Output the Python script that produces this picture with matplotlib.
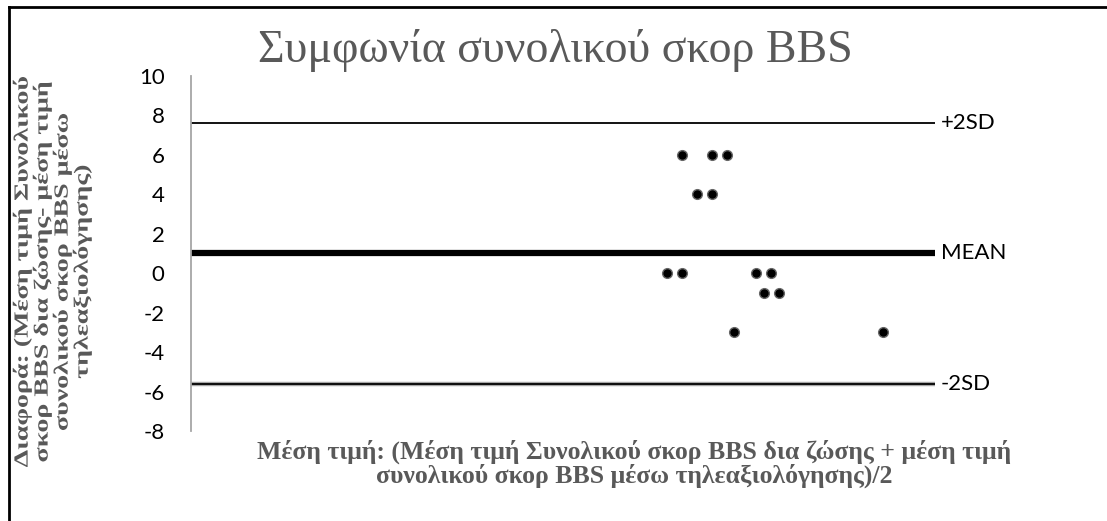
import numpy as np
import matplotlib.pyplot as plt
from matplotlib.lines import Line2D
from matplotlib.patches import PathPatch
from matplotlib.textpath import TextPath
from matplotlib.font_manager import FontProperties
from matplotlib.transforms import Affine2D, IdentityTransform, blended_transform_factory

plt.rcParams['axes.unicode_minus'] = False

# Bland-Altman: mean of the two BBS scores vs. their difference
mean_score = [33, 35, 36, 34, 35, 32, 33, 38, 39, 38.5, 39.5, 36.5, 46.5]
diff_score = [6, 6, 6, 4, 4, 0, 0, 0, 0, -1, -1, -3, -3]

mean_diff = 1.0
upper_lim = 7.6
lower_lim = -5.6
line_names = ['+2SD', 'MEAN', '-2SD']

yticks = np.arange(-8, 11, 2)

title = 'Συμφωνία συνολικού σκορ BBS'
xlabel = ('Μέση τιμή: (Μέση τιμή Συνολικού σκορ BBS δια ζώσης + μέση τιμή\n'
          'συνολικού σκορ BBS μέσω τηλεαξιολόγησης)/2')
ylabel_lines = ['Διαφορά: (Μέση τιμή Συνολικού',
                'σκορ BBS δια ζώσης- μέση τιμή',
                'συνολικού σκορ BBS μέσω',
                'τηλεαξιολόγησης)']

W, H = 1107, 521
GREY = '#595959'
serif_bold = FontProperties(family='Liberation Serif', weight='bold')


def wide_text(fig, s, x, y, em, stretch, prop, rotation=0, color=GREY):
    """Draw text as a path (pixel units), stretched along its baseline."""
    tp = TextPath((0, 0), s, size=em, prop=prop)
    bb = tp.get_extents()
    tr = (Affine2D().translate(-(bb.x0 + bb.x1) / 2, -0.33 * em)
          .scale(stretch, 1).rotate_deg(rotation).translate(x, H - y))
    fig.add_artist(PathPatch(tr.transform_path(tp), facecolor=color, lw=0,
                             transform=IdentityTransform()))


def text_len(s, em, prop):
    bb = TextPath((0, 0), s, size=em, prop=prop).get_extents()
    return bb.x1 - bb.x0


fig = plt.figure(figsize=(W / 100, H / 100), dpi=100)
ax = fig.add_axes([191 / W, 1 - 431 / H, (935 - 191) / W, (431 - 76) / H])

ax.set_xlim(0, 50)
ax.set_ylim(-8, 10)

# limit lines
ax.axhline(upper_lim, color='black', lw=1.3)
ax.axhline(mean_diff, color='black', lw=4.5, solid_capstyle='round')
ax.axhline(lower_lim, color='#a6a6a6', lw=3.2)
ax.axhline(lower_lim, color='black', lw=1.3)

ax.plot(mean_score, diff_score, 'o', color='black', markersize=7,
        markeredgecolor='#666666', markeredgewidth=1.0, zorder=5)

trans = blended_transform_factory(ax.transAxes, ax.transData)
for name, val in zip(line_names, [upper_lim, mean_diff, lower_lim]):
    ax.text(1.008, val, name, transform=trans, va='center', ha='left',
            fontsize=16, family='Lato', color='black')

for s in ['top', 'right', 'bottom']:
    ax.spines[s].set_visible(False)
ax.spines['left'].set_color('#a6a6a6')
ax.spines['left'].set_linewidth(1.3)
ax.set_xticks([])
ax.set_yticks(yticks)
ax.tick_params(axis='y', length=0, pad=19, labelsize=16)
for lab in ax.get_yticklabels():
    lab.set_family('Lato')

fig.text(555 / W, 1 - 50 / H, title, ha='center', va='center', fontsize=33,
         family='Liberation Serif', color=GREY)

fig.text(634 / W, 1 - 464 / H, xlabel,
         ha='center', va='center', fontsize=18.5, family='Liberation Serif',
         weight='bold', color=GREY, linespacing=1.0)

# y label, one rotated line at a time
y_em = 20
y_stretch = 390 / text_len(ylabel_lines[0], y_em, serif_bold)
for i, line in enumerate(ylabel_lines):
    wide_text(fig, line, 21 + 20 * i, 272, y_em, y_stretch, serif_bold,
              rotation=90)

# frame around the chart
fig.add_artist(Line2D([9 / W, 9 / W], [0, 1 - 7 / H], color='black', lw=2,
                      transform=fig.transFigure))
fig.add_artist(Line2D([9 / W, 1], [1 - 7 / H, 1 - 7 / H], color='black', lw=2,
                      transform=fig.transFigure))

fig.savefig('out.png', dpi=100)
